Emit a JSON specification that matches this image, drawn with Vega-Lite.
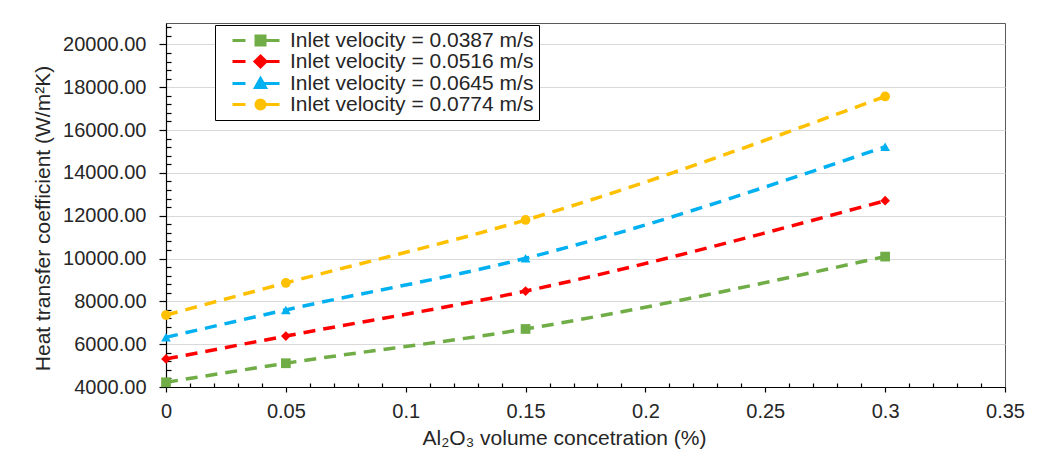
{
  "$schema": "https://vega.github.io/schema/vega-lite/v6.json",
  "width": 839,
  "height": 364,
  "autosize": "none",
  "padding": {"left": 166, "top": 23, "right": 33, "bottom": 76},
  "background": "white",
  "config": {
    "view": {"stroke": "#595959", "strokeWidth": 1},
    "font": "Liberation Sans",
    "axis": {"labelFont": "Liberation Sans", "titleFont": "Liberation Sans", "labelFontSize": 20, "titleFontSize": 21, "titleFontWeight": "normal", "labelColor": "#262626", "titleColor": "#262626", "domainColor": "#000000", "tickColor": "#000000", "domainWidth": 1.2, "tickWidth": 1.2},
    "legend": {"rowPadding": -5, "labelFontSize": 21, "labelFont": "Liberation Sans", "labelColor": "#262626", "symbolSize": 100, "symbolStrokeWidth": 3, "labelOffset": 49, "labelLimit": 400, "padding": 5}
  },
  "data": {
    "values": [
      {"x": 0, "h": 4220, "series": "Inlet velocity = 0.0387 m/s"},
      {"x": 0.05, "h": 5110, "series": "Inlet velocity = 0.0387 m/s"},
      {"x": 0.15, "h": 6710, "series": "Inlet velocity = 0.0387 m/s"},
      {"x": 0.3, "h": 10090, "series": "Inlet velocity = 0.0387 m/s"},
      {"x": 0, "h": 5310, "series": "Inlet velocity = 0.0516 m/s"},
      {"x": 0.05, "h": 6380, "series": "Inlet velocity = 0.0516 m/s"},
      {"x": 0.15, "h": 8480, "series": "Inlet velocity = 0.0516 m/s"},
      {"x": 0.3, "h": 12700, "series": "Inlet velocity = 0.0516 m/s"},
      {"x": 0, "h": 6320, "series": "Inlet velocity = 0.0645 m/s"},
      {"x": 0.05, "h": 7600, "series": "Inlet velocity = 0.0645 m/s"},
      {"x": 0.15, "h": 10010, "series": "Inlet velocity = 0.0645 m/s"},
      {"x": 0.3, "h": 15220, "series": "Inlet velocity = 0.0645 m/s"},
      {"x": 0, "h": 7360, "series": "Inlet velocity = 0.0774 m/s"},
      {"x": 0.05, "h": 8860, "series": "Inlet velocity = 0.0774 m/s"},
      {"x": 0.15, "h": 11800, "series": "Inlet velocity = 0.0774 m/s"},
      {"x": 0.3, "h": 17570, "series": "Inlet velocity = 0.0774 m/s"}
    ]
  },
  "encoding": {
    "x": {
      "field": "x", "type": "quantitative",
      "scale": {"domain": [0, 0.35], "nice": false, "zero": false},
      "axis": {
        "title": "Al₂O₃ volume concetration (%)",
        "titleX": 398,
        "titleAlign": "center",
        "values": [0,0.01,0.02,0.03,0.04,0.05,0.06,0.07,0.08,0.09,0.1,0.11,0.12,0.13,0.14,0.15,0.16,0.17,0.18,0.19,0.2,0.21,0.22,0.23,0.24,0.25,0.26,0.27,0.28,0.29,0.3,0.31,0.32,0.33,0.34,0.35],
        "labelExpr": "abs(datum.value*20 - round(datum.value*20)) < 1e-6 ? format(datum.value, '~g') : ''",
        "labelOverlap": false,
        "labelFlush": false,
        "grid": false,
        "tickSize": {"condition": {"test": "abs(datum.value*20 - round(datum.value*20)) < 1e-6", "value": 5}, "value": -4},
        "labelPadding": 9,
        "titlePadding": 6
      }
    },
    "y": {
      "field": "h", "type": "quantitative",
      "scale": {"domain": [4000, 21000], "nice": false, "zero": false},
      "axis": {
        "title": "Heat transfer coefficient (W/m²K)",
        "titleY": 195,
        "titleAlign": "center",
        "values": [4000,4400,4800,5200,5600,6000,6400,6800,7200,7600,8000,8400,8800,9200,9600,10000,10400,10800,11200,11600,12000,12400,12800,13200,13600,14000,14400,14800,15200,15600,16000,16400,16800,17200,17600,18000,18400,18800,19200,19600,20000,20400,20800],
        "labelExpr": "datum.value % 2000 === 0 ? format(datum.value, '.2f') : ''",
        "labelOverlap": false,
        "labelFlush": false,
        "grid": true,
        "gridColor": "#d9d9d9",
        "gridOpacity": {"condition": {"test": "datum.value % 2000 === 0", "value": 1}, "value": 0},
        "tickSize": {"condition": {"test": "datum.value % 2000 === 0", "value": 7}, "value": -5},
        "labelPadding": 13,
        "titlePadding": 9
      }
    }
  },
  "layer": [
    {
      "mark": {"type": "line", "interpolate": "monotone", "strokeWidth": 3.5, "strokeDash": [12, 8]},
      "encoding": {
        "color": {
          "field": "series", "type": "nominal",
          "scale": {
            "domain": ["Inlet velocity = 0.0387 m/s", "Inlet velocity = 0.0516 m/s", "Inlet velocity = 0.0645 m/s", "Inlet velocity = 0.0774 m/s"],
            "range": ["#70AD47", "#FF0000", "#00B0F0", "#FFC000"]
          },
          "legend": null
        }
      }
    },
    {
      "mark": {"type": "point", "filled": true, "size": 95, "opacity": 1},
      "encoding": {
        "color": {
          "field": "series", "type": "nominal",
          "scale": {
            "domain": ["Inlet velocity = 0.0387 m/s", "Inlet velocity = 0.0516 m/s", "Inlet velocity = 0.0645 m/s", "Inlet velocity = 0.0774 m/s"],
            "range": ["#70AD47", "#FF0000", "#00B0F0", "#FFC000"]
          },
          "legend": null
        },
        "shape": {
          "field": "series", "type": "nominal",
          "scale": {
            "domain": ["Inlet velocity = 0.0387 m/s", "Inlet velocity = 0.0516 m/s", "Inlet velocity = 0.0645 m/s", "Inlet velocity = 0.0774 m/s"],
            "range": ["square", "diamond", "triangle-up", "circle"]
          },
          "legend": null
        }
      }
    },
    {
      "transform": [{"filter": "datum.h < 0"}],
      "mark": {"type": "point", "filled": true, "opacity": 1, "strokeWidth": 3},
      "encoding": {
        "color": {
          "field": "series", "type": "nominal",
          "scale": {
            "domain": ["Inlet velocity = 0.0387 m/s", "Inlet velocity = 0.0516 m/s", "Inlet velocity = 0.0645 m/s", "Inlet velocity = 0.0774 m/s"],
            "range": ["#70AD47", "#FF0000", "#00B0F0", "#FFC000"]
          },
          "legend": {
            "title": null,
            "orient": "none",
            "legendX": 49,
            "legendY": 2,
            "fillColor": "white",
            "strokeColor": "#000000",
            "cornerRadius": 0,
            "symbolOpacity": 1,
            "rowPadding": -5
          }
        },
        "stroke": {
          "field": "series", "type": "nominal",
          "scale": {
            "domain": ["Inlet velocity = 0.0387 m/s", "Inlet velocity = 0.0516 m/s", "Inlet velocity = 0.0645 m/s", "Inlet velocity = 0.0774 m/s"],
            "range": ["#70AD47", "#FF0000", "#00B0F0", "#FFC000"]
          },
          "legend": {"title": null, "rowPadding": -5}
        },
        "shape": {
          "field": "series", "type": "nominal",
          "scale": {
            "domain": ["Inlet velocity = 0.0387 m/s", "Inlet velocity = 0.0516 m/s", "Inlet velocity = 0.0645 m/s", "Inlet velocity = 0.0774 m/s"],
            "range": [
              "M0.4,0H3M6,0H9.8M5.1,-0.9H6.9V0.9H5.1Z",
              "M0.4,0H3M6,0H9.8M6,-1.1L7.1,0L6,1.1L4.9,0Z",
              "M0.4,0H3M6,0H9.8M6,-1L7,0.8H5Z",
              "M0.4,0H3M6,0H9.8M5.1,0A0.9,0.9 0 1,0 6.9,0A0.9,0.9 0 1,0 5.1,0Z"
            ]
          },
          "legend": {"title": null, "rowPadding": -5}
        }
      }
    }
  ],
  "resolve": {
    "scale": {"color": "independent", "shape": "independent", "stroke": "independent"},
    "legend": {"color": "independent", "shape": "independent", "stroke": "independent"}
  }
}
